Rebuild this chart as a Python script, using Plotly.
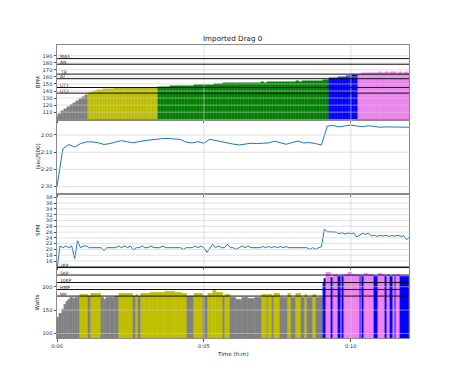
import plotly.graph_objects as go

# ---------------- data ----------------
t_hr = [round(i * 0.1, 1) for i in range(121)]        # minutes
hr = [
    103, 108, 111, 114, 117, 120, 123, 126, 129, 132,
    135, 137.5, 139, 140, 141, 142, 142.5, 143, 143.5, 143.5,
    144, 144, 144, 144.5, 144, 144.5, 144.5, 144, 144.5, 144.5,
    144.5, 144.5, 144.5, 144.5, 144.8, 145.2, 145.5, 146, 146, 146.5,
    146.5, 147, 147, 147, 147.5, 147.5, 147.5, 148, 148, 148,
    148.5, 148.5, 149, 149, 149.5, 150, 150.5, 151, 151, 151.5,
    151, 151.5, 151, 151.5, 152, 151.5, 152, 152, 151.5, 152,
    152.5, 152, 152.5, 152.5, 153, 152.5, 153, 153, 153.5, 153,
    153.5, 153.5, 154, 153.5, 154, 154, 154, 154.5, 154, 154.5,
    154.5, 155, 155.5, 158, 158.5, 159, 159.5, 160, 160.5, 161,
    162, 162.5, 163, 164.5, 165, 165.5, 165.5, 166, 165.5, 166,
    166.5, 166, 166.5, 166, 166.5, 166.5, 166, 166.5, 166, 166.5,
    166]

t_pace = [round(i * 0.2, 1) for i in range(61)]
pace = [  # seconds per 500 m
    150, 128, 125.5, 127, 125, 124, 124, 124.5, 125.5, 125,
    124, 123.3, 124, 124.5, 123.8, 123.2, 122.8, 122.5, 122, 122,
    122.2, 122.6, 124.2, 124.6, 123.9, 124.8, 122.5, 123.3, 124, 124.8,
    125.3, 125.8, 125.2, 124.8, 125, 124.8, 124.6, 123.6, 124.6, 125.4,
    124.4, 123.5, 124.6, 124.4, 125, 125.8, 114.8, 114.5, 115.3, 114.9,
    114.2, 114.8, 115.2, 114.6, 115, 115.5, 115.3, 115.4, 115.5, 115.4,
    115.5]

t_spm = t_hr
spm = [
    13.0, 21.2, 20.6, 21.2, 20.6, 21.2, 16.8, 23.0, 20.6, 21.2,
    21.2, 20.6, 20.6, 20.6, 20.6, 20.6, 19.6, 20.6, 20.6, 20.6,
    20.6, 21.2, 20.6, 21.2, 20.6, 21.2, 19.8, 20.6, 20.6, 21.2,
    20.6, 20.6, 21.2, 20.6, 20.6, 20.6, 21.2, 20.6, 20.6, 20.6,
    20.6, 20.6, 20.6, 20.0, 20.6, 20.6, 20.6, 21.2, 20.6, 21.2,
    20.6, 19.0, 20.6, 21.8, 20.6, 21.2, 20.6, 20.6, 21.8, 20.6,
    20.6, 20.0, 20.6, 21.2, 20.6, 21.2, 20.6, 20.6, 20.6, 20.6,
    21.0, 20.6, 21.0, 20.6, 21.0, 20.6, 21.0, 20.6, 21.0, 20.6,
    20.6, 20.6, 20.6, 20.6, 20.6, 20.6, 20.0, 20.6, 20.0, 20.6,
    20.9, 27.0, 26.1, 26.1, 26.1, 26.0, 25.4, 25.8, 25.3, 25.7,
    25.4, 25.7, 24.3, 25.0, 25.6, 25.2, 25.6, 24.7, 24.9, 24.5,
    24.9, 24.6, 24.9, 24.5, 24.8, 24.6, 24.9, 24.5, 24.7, 23.3,
    24.4]

# power: stroke segments (start minute, watts)
pw_start = [
    0.00, 0.07, 0.17, 0.24, 0.31, 0.37, 0.44, 0.54, 0.61, 0.71,
    0.78, 1.05, 1.15, 1.49, 1.60, 1.67, 1.80, 1.97, 2.11, 2.57,
    2.68, 2.76, 2.85, 3.16, 3.44, 3.67, 4.01, 4.25, 4.43, 4.66,
    4.98, 5.15, 5.31, 5.41, 5.66, 5.71, 5.88, 6.09, 6.29, 6.50,
    6.73, 6.96, 7.15, 7.19, 7.32, 7.38, 7.59, 7.87, 7.98, 8.12,
    8.32, 8.44, 8.51, 8.72, 8.80, 9.04, 9.10, 9.17, 9.32, 9.40,
    9.55, 9.66, 9.70, 9.76, 9.90, 10.03, 10.31, 10.36, 10.39, 10.44,
    10.58, 10.78, 10.93, 11.05, 11.16, 11.23, 11.35, 11.42, 11.49, 11.53,
    11.69]
pw_watts = [
    135, 142, 152, 162, 168, 172, 176, 174, 176, 178,
    184, 179, 185, 178, 172, 176, 178, 179, 186, 179,
    183, 179, 185, 188, 187, 189, 188, 186, 179, 185,
    179, 186, 192, 187, 179, 184, 176, 173, 177, 175,
    177, 184, 179, 184, 179, 186, 178, 185, 178, 185,
    178, 184, 178, 184, 177, 210, 218, 231, 220, 227,
    221, 226, 221, 227, 230, 227, 221, 226, 221, 229,
    227, 221, 229, 227, 221, 227, 221, 226, 221, 226,
    222]
t_end = 11.98

hr_zone_names = ["UT2", "UT1", "AT", "TR", "AN", "MAX"]
hr_zone_vals = [137, 145, 157.5, 164, 178, 186]
pw_zone_names = ["MP", "HMP", "10KP", "5KP", "2KP"]
pw_zone_vals = [180, 194, 209, 225, 241]
zone_colors = ["#808080", "#bfbf00", "#008000", "#0000ff", "#ee82ee", "#ff0000", "#ff0000"]

hr_ticks = list(range(110, 200, 10))
pace_ticks = [120, 130, 140, 150]
pace_text = ["2:00", "2:10", "2:20", "2:30"]
spm_ticks = list(range(16, 40, 2))
pw_ticks = [100, 150, 200]
x_ticks = [0, 5, 10]
x_text = ["0:00", "0:05", "0:10"]


def zone_color(v, thresholds):
    k = sum(1 for th in thresholds if v >= th)
    return zone_colors[k]


# ---------------- figure ----------------
W, H = 455, 380
FONT = "DejaVu Sans"
xd = [57 / W, 409 / W]
panels = [(45, 119.5), (119.5, 193.7), (193.7, 266.5), (266.5, 338.3)]
ydom = [[1 - b / H, 1 - a / H] for a, b in panels]

fig = go.Figure()

hr_cols = [zone_color(v, hr_zone_vals[:5]) for v in hr]
fig.add_trace(go.Bar(x=t_hr, y=hr, width=0.1, marker=dict(color=hr_cols, line=dict(color=hr_cols, width=0.4)),
                     xaxis="x", yaxis="y", showlegend=False))
fig.add_trace(go.Scatter(x=t_pace, y=pace, mode="lines", line=dict(color="#1f77b4", width=1),
                         xaxis="x2", yaxis="y2", showlegend=False))
fig.add_trace(go.Scatter(x=t_spm, y=spm, mode="lines", line=dict(color="#1f77b4", width=1),
                         xaxis="x3", yaxis="y3", showlegend=False))
pw_ends = pw_start[1:] + [t_end]
pw_width = [e - s for s, e in zip(pw_start, pw_ends)]
pw_cols = [zone_color(v, pw_zone_vals) for v in pw_watts]
fig.add_trace(go.Bar(x=pw_start, y=pw_watts, width=pw_width, offset=0,
                     marker=dict(color=pw_cols, line=dict(color=pw_cols, width=0.4)),
                     xaxis="x4", yaxis="y4", showlegend=False))

tickfont = dict(family=FONT, size=5.2, color="#333333")
yspecs = [
    dict(range=[99.6, 205.3], tickvals=hr_ticks),
    dict(range=[154.1, 111], tickvals=pace_ticks, ticktext=pace_text),
    dict(range=[14.1, 39.25], tickvals=spm_ticks),
    dict(range=[89.6, 243.3], tickvals=pw_ticks),
]
lay = dict(width=W, height=H, margin=dict(l=0, r=0, t=0, b=0, autoexpand=False),
           paper_bgcolor="white", plot_bgcolor="white", barmode="overlay", bargap=0,
           font=dict(family=FONT, size=6, color="#333333"))
shapes = []
for i in range(4):
    n = "" if i == 0 else str(i + 1)
    lay["xaxis" + n] = dict(domain=xd, anchor="y" + n, range=[0, t_end], tickvals=x_ticks,
                            ticktext=x_text, showticklabels=(i == 3), ticks="outside", ticklen=2.5,
                            tickcolor="#555555", tickwidth=0.8, showgrid=False, zeroline=False,
                            showline=True, mirror=True, linecolor="#8a8a8a", linewidth=1,
                            tickfont=tickfont, automargin=False)
    ys = yspecs[i]
    lay["yaxis" + n] = dict(domain=ydom[i], anchor="x" + n, showgrid=False, zeroline=False,
                            ticks="outside", ticklen=2.5, tickcolor="#555555", tickwidth=0.8,
                            showline=True, mirror=True, linecolor="#8a8a8a", linewidth=1,
                            tickfont=tickfont, automargin=False, **ys)
    xr = "x" + n
    yr = "y" + n
    for v in ys["tickvals"]:
        shapes.append(dict(type="line", xref=xr + " domain", yref=yr, x0=0, x1=1, y0=v, y1=v,
                           line=dict(color="rgba(205,205,205,0.75)", width=0.8), layer="above"))
    for v in x_ticks[1:]:
        shapes.append(dict(type="line", xref=xr, yref=yr + " domain", x0=v, x1=v, y0=0, y1=1,
                           line=dict(color="rgba(205,205,205,0.75)", width=0.8), layer="above"))

annotations = []
for name, v in zip(hr_zone_names, hr_zone_vals):
    shapes.append(dict(type="line", xref="x domain", yref="y", x0=0, x1=1, y0=v, y1=v,
                       line=dict(color="#111111", width=1), layer="above"))
    annotations.append(dict(text=name, xref="x", yref="y", x=0.07, y=v, xanchor="left", yanchor="bottom",
                            showarrow=False, borderpad=0, yshift=-1.5,
                            font=dict(family=FONT, size=4.5, color="#333333")))
for name, v in zip(pw_zone_names, pw_zone_vals):
    shapes.append(dict(type="line", xref="x4 domain", yref="y4", x0=0, x1=1, y0=v, y1=v,
                       line=dict(color="#111111", width=1), layer="above"))
    annotations.append(dict(text=name, xref="x4", yref="y4", x=0.07, y=v, xanchor="left", yanchor="bottom",
                            showarrow=False, borderpad=0, yshift=-1.5,
                            font=dict(family=FONT, size=4.5, color="#333333")))

annotations.append(dict(text="Imported Drag 0", xref="paper", yref="paper", x=233 / W, y=1 - 39 / H,
                        xanchor="center", yanchor="middle", showarrow=False,
                        font=dict(family=FONT, size=7.2, color="#222222")))
annotations.append(dict(text="Time (h:m)", xref="paper", yref="paper", x=233 / W, y=1 - 354 / H,
                        xanchor="center", yanchor="middle", showarrow=False,
                        font=dict(family=FONT, size=5.6, color="#222222")))
for lbl, (a, b), xp in zip(["BPM", "(sec/500)", "SPM", "Watts"], panels, [38, 38, 38, 37]):
    annotations.append(dict(text=lbl, xref="paper", yref="paper", x=xp / W, y=1 - (a + b) / 2 / H,
                            xanchor="center", yanchor="middle", textangle=-90, showarrow=False,
                            font=dict(family=FONT, size=5.6, color="#222222")))

lay["shapes"] = shapes
lay["annotations"] = annotations
fig.update_layout(**lay)
fig.write_html("out.html")
